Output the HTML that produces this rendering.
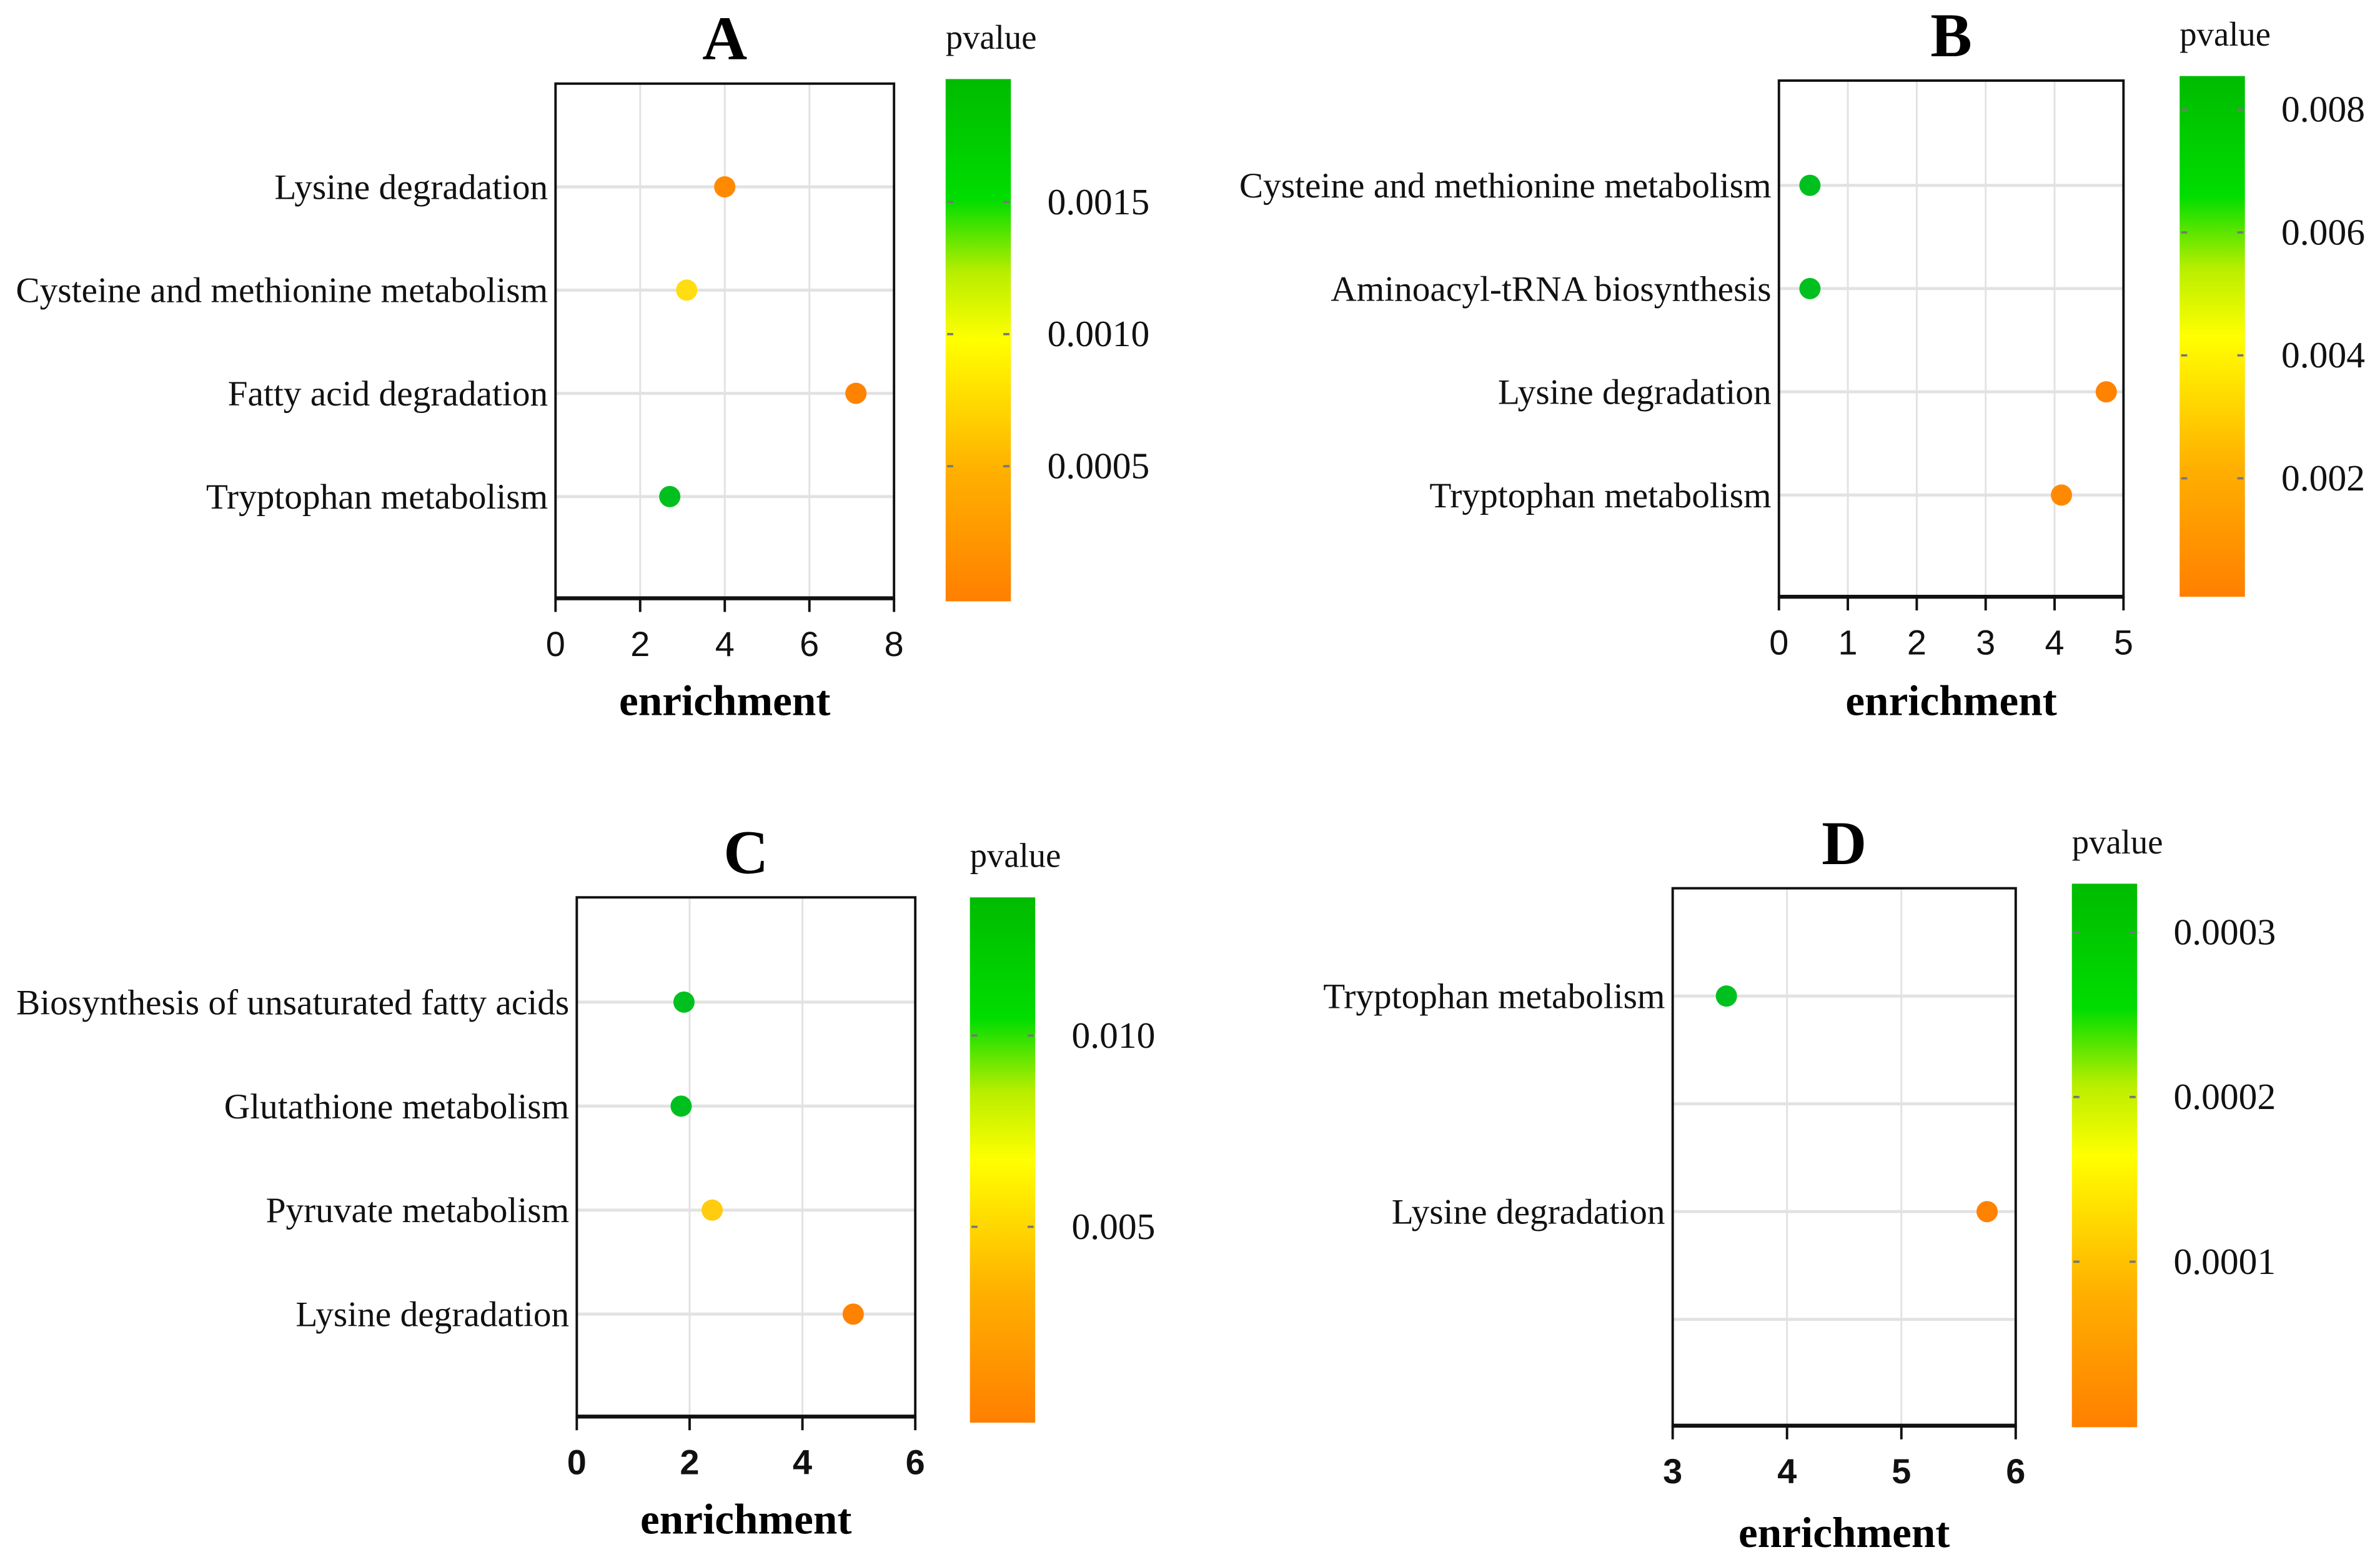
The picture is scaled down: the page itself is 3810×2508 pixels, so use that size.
<!DOCTYPE html>
<html><head><meta charset="utf-8"><style>
html,body{margin:0;padding:0;background:#fff;}
svg{display:block;}
</style></head><body>
<svg id="fig" xmlns="http://www.w3.org/2000/svg" width="3810" height="2508" viewBox="0 0 1568 1032">
<defs>
<linearGradient id="cb" x1="0" y1="1" x2="0" y2="0">
<stop offset="0" stop-color="#ff7f00"/>
<stop offset="0.25" stop-color="#ffb000"/>
<stop offset="0.5" stop-color="#ffff00"/>
<stop offset="0.63" stop-color="#b8ee00"/>
<stop offset="0.77" stop-color="#00dd00"/>
<stop offset="1" stop-color="#00bb00"/>
</linearGradient>
</defs>
<rect width="1568" height="1032" fill="#fff"/>
</svg>
<script>
// Panel A
const catsA = ["Lysine degradation","Cysteine and methionine metabolism","Fatty acid degradation","Tryptophan metabolism"];
const valsA = [4.0, 3.1, 7.1, 2.7];
const colsA = ["#ff8a00","#ffdd10","#ff8200","#00c020"];
const ticksA = [0,2,4,6,8];
const cbA = ["0.0015","0.0010","0.0005"];
// Panel B
const catsB = ["Cysteine and methionine metabolism","Aminoacyl-tRNA biosynthesis","Lysine degradation","Tryptophan metabolism"];
const valsB = [0.45, 0.45, 4.75, 4.1];
const colsB = ["#00c020","#00c020","#ff8200","#ff8a00"];
const ticksB = [0,1,2,3,4,5];
const cbB = ["0.008","0.006","0.004","0.002"];
// Panel C
const catsC = ["Biosynthesis of unsaturated fatty acids","Glutathione metabolism","Pyruvate metabolism","Lysine degradation"];
const valsC = [1.9, 1.85, 2.4, 4.9];
const colsC = ["#00c020","#00c020","#ffcc10","#ff8200"];
const ticksC = [0,2,4,6];
const cbC = ["0.010","0.005"];
// Panel D
const catsD = ["Tryptophan metabolism","","Lysine degradation",""];
const valsD = [3.47, null, 5.75, null];
const colsD = ["#00c020","","#ff8200",""];
const ticksD = [3,4,5,6];
const cbD = ["0.0003","0.0002","0.0001"];

const NS="http://www.w3.org/2000/svg";
const svg=document.getElementById('fig');
function mk(tag,attrs,parent){const e=document.createElementNS(NS,tag);for(const k in attrs)e.setAttribute(k,attrs[k]);(parent||svg).appendChild(e);return e;}

function panel(p){
  const g=mk('g',{});
  
  
  const xmin=p.ticks[0], xmax=p.ticks[p.ticks.length-1];
  const xs=v=>p.x0+(v-xmin)/(xmax-xmin)*(p.x1-p.x0);
  const ys=i=>p.cy0+i*p.dy;
  p.ticks.forEach(t=>{mk('line',{x1:xs(t),x2:xs(t),y1:p.y0,y2:p.y1,stroke:'#e2e2e2','stroke-width':1.2},g);});
  p.cats.forEach((c,i)=>{
    mk('line',{x1:p.x0,x2:p.x1,y1:ys(i),y2:ys(i),stroke:'#e2e2e2','stroke-width':2},g);
    if(c){const t=mk('text',{x:p.x0-5,y:ys(i)+8,'text-anchor':'end','font-family':'Liberation Serif, serif','font-size':23.6,fill:'#111'},g);t.textContent=c;
    
    }
  });
  mk('rect',{x:p.x0,y:p.y0,width:p.x1-p.x0,height:p.y1-p.y0,fill:'none',stroke:'#111','stroke-width':1.6},g);
  mk('line',{x1:p.x0,x2:p.x1,y1:p.y1,y2:p.y1,stroke:'#111','stroke-width':2.6},g);
  p.ticks.forEach(t=>{
    mk('line',{x1:xs(t),x2:xs(t),y1:p.y1,y2:p.y1+9,stroke:'#111','stroke-width':1.6},g);
    const tx=mk('text',{x:xs(t),y:p.y1+38,'text-anchor':'middle','font-family':'Liberation Sans, sans-serif','font-size':23,'font-weight':p.boldTicks?'bold':'normal',fill:'#111'},g);
    tx.textContent=t;
    
    
  });
  p.vals.forEach((v,i)=>{
    if(v===null)return;
    const c=mk('circle',{cx:xs(v),cy:ys(i),r:7,fill:p.cols[i]},g);
    
    
  });
  const ti=mk('text',{x:(p.x0+p.x1)/2,y:p.y0-16,'text-anchor':'middle','font-family':'Liberation Serif, serif','font-size':41,'font-weight':'bold',fill:'#000'},g);
  ti.textContent=p.id;
  
  
  const xl=mk('text',{x:(p.x0+p.x1)/2,y:p.xlY,'text-anchor':'middle','font-family':'Liberation Serif, serif','font-size':28.5,'font-weight':'bold',fill:'#000'},g);
  xl.textContent='enrichment';
  
  
  const cb=mk('rect',{x:p.cbx,y:p.cby0,width:43,height:p.cby1-p.cby0,fill:'url(#cb)'},g);
  
  
  const pv=mk('text',{x:p.cbx+30,y:p.cby0-20,'text-anchor':'middle','font-family':'Liberation Serif, serif','font-size':22.5,fill:'#111'},g);
  pv.textContent='pvalue';
  
  
  p.cbl.forEach((l,i)=>{
    const y=p.cbt0+i*p.cbdt;
    mk('line',{x1:p.cbx+1,x2:p.cbx+5,y1:y,y2:y,stroke:'#777','stroke-width':1.5},g);
    mk('line',{x1:p.cbx+38,x2:p.cbx+42,y1:y,y2:y,stroke:'#777','stroke-width':1.5},g);
    const t=mk('text',{x:p.cbx+67,y:y+8,'font-family':'Liberation Serif, serif','font-size':24.5,fill:'#111'},g);
    t.textContent=l;
    
    
  });
}
panel({id:'A',cats:catsA,vals:valsA,cols:colsA,ticks:ticksA,cbl:cbA,x0:366,x1:589,y0:55,y1:394,cy0:123,dy:68,xlY:471,boldTicks:false,cbx:623,cby0:52,cby1:396,cbt0:133,cbdt:87});
panel({id:'B',cats:catsB,vals:valsB,cols:colsB,ticks:ticksB,cbl:cbB,x0:1172,x1:1399,y0:53,y1:393,cy0:122,dy:68,xlY:471,boldTicks:false,cbx:1436,cby0:50,cby1:393,cbt0:72,cbdt:81});
panel({id:'C',cats:catsC,vals:valsC,cols:colsC,ticks:ticksC,cbl:cbC,x0:380,x1:603,y0:591,y1:933,cy0:660,dy:68.5,xlY:1010,boldTicks:true,cbx:639,cby0:591,cby1:937,cbt0:682,cbdt:126});
panel({id:'D',cats:catsD,vals:valsD,cols:colsD,ticks:ticksD,cbl:cbD,x0:1102,x1:1328,y0:585,y1:939,cy0:656,dy:71,xlY:1019,boldTicks:true,cbx:1365,cby0:582,cby1:940,cbt0:614,cbdt:108.5});
</script>
</body></html>
